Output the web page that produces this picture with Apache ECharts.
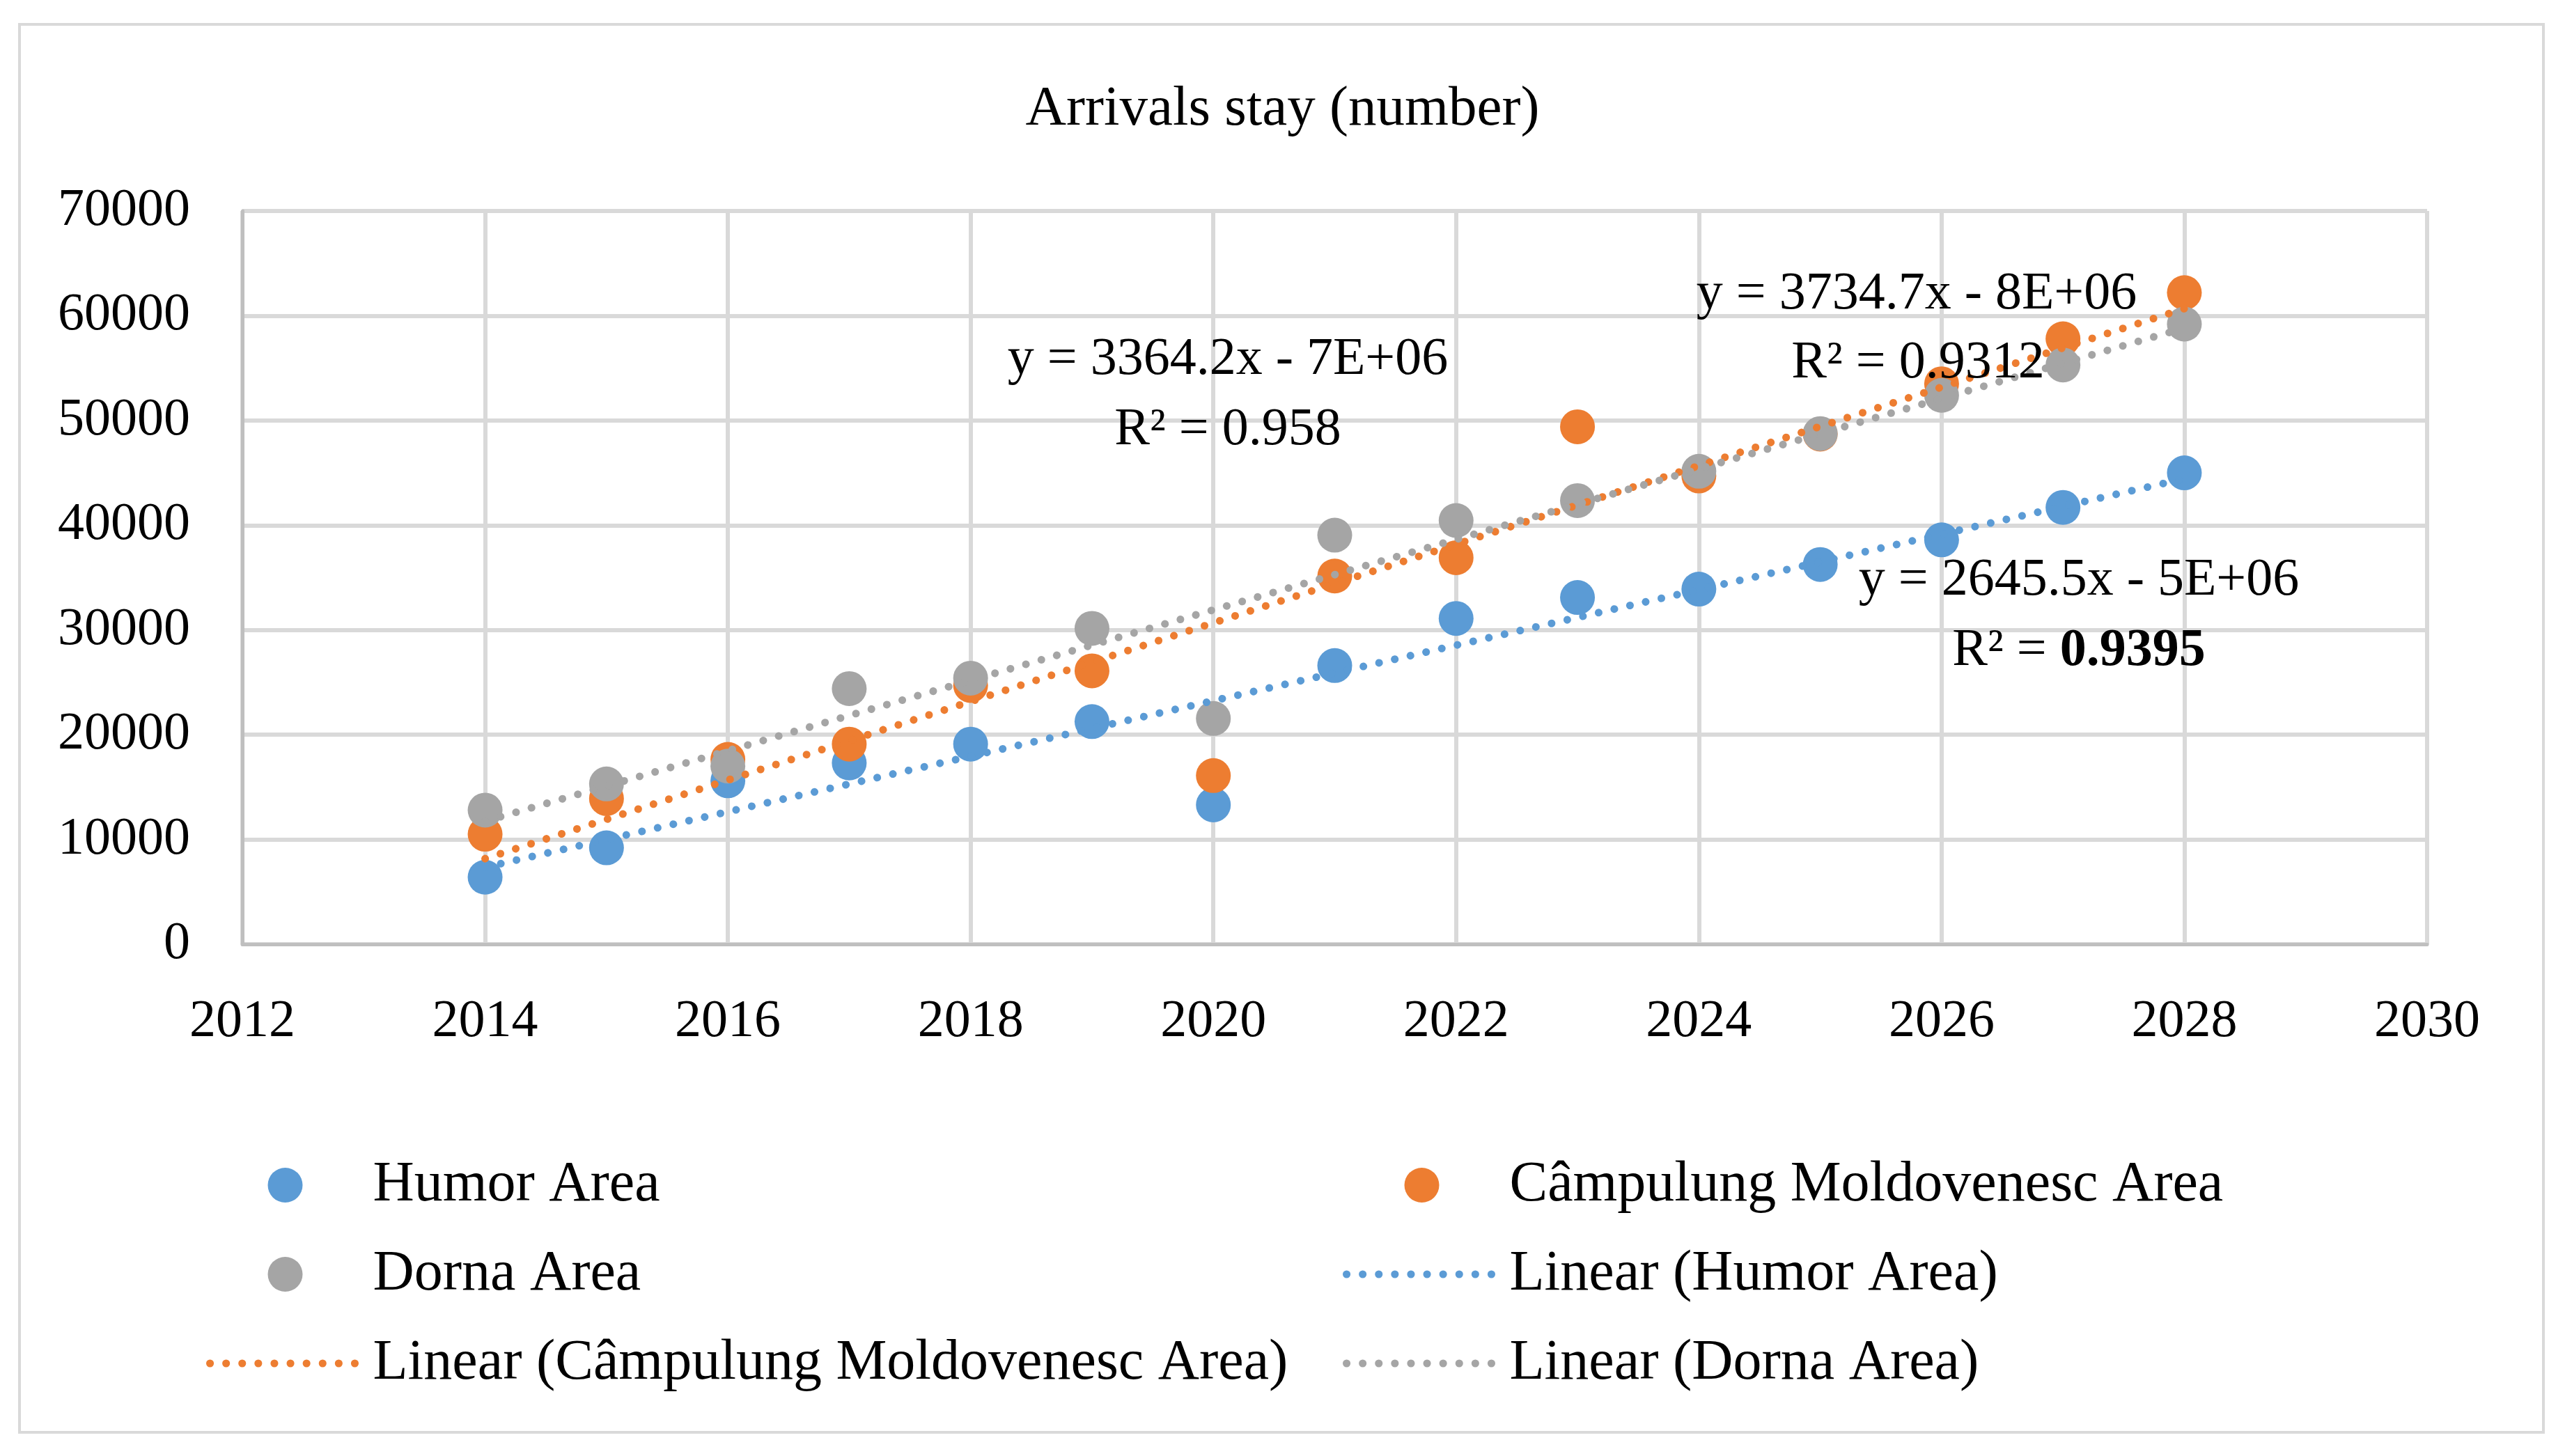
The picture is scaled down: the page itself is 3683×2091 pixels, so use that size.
<!DOCTYPE html>
<html><head><meta charset="utf-8">
<script src="https://cdn.jsdelivr.net/npm/echarts@6/dist/echarts.min.js"></script>
<style>html,body{margin:0;padding:0;background:#fff}#c{width:3683px;height:2091px}</style>
</head><body><div id="c"></div>
<script>
const years = [2014,2015,2016,2017,2018,2019,2020,2021,2022,2023,2024,2025,2026,2027,2028];
const humor = [6400,9200,15600,17300,19100,21250,13300,26600,31100,33100,33900,36250,38600,41700,45000];
const campulung = [10500,13900,17650,19100,24700,26100,16100,35150,36900,49400,44700,48700,53500,57800,62200];
const dorna = [12800,15300,17000,24400,25400,30150,21550,39050,40450,42350,45150,48750,52400,55300,59200];
const seriesNames = ['Humor Area','Câmpulung Moldovenesc Area','Dorna Area'];
const trendNames = ['Linear (Humor Area)','Linear (Câmpulung Moldovenesc Area)','Linear (Dorna Area)'];
const equations = [
  ['y = 2645.5x - 5E+06','R² = ','0.9395'],
  ['y = 3734.7x - 8E+06','R² = 0.9312',''],
  ['y = 3364.2x - 7E+06','R² = 0.958','']
];
const colors = ['#5B9BD5','#ED7D31','#A5A5A5'];

function fit(xs, ys){
  const n = xs.length;
  let sx=0, sy=0, sxx=0, sxy=0;
  for(let i=0;i<n;i++){sx+=xs[i];sy+=ys[i];sxx+=xs[i]*xs[i];sxy+=xs[i]*ys[i];}
  const b = (n*sxy - sx*sy)/(n*sxx - sx*sx);
  const a = (sy - b*sx)/n;
  return [[xs[0], a+b*xs[0]], [xs[n-1], a+b*xs[n-1]]];
}

const allData = [humor, campulung, dorna];
const font = 'Liberation Serif';
const dotted = {width:11, type:[0.1,23], cap:'round'};
const series = [];
allData.forEach((d,i)=>{
  series.push({
    name: seriesNames[i], type:'scatter', symbol:'circle', symbolSize:50,
    itemStyle:{color:colors[i], opacity:1},
    data: years.map((y,k)=>[y,d[k]]), z:2
  });
});
allData.forEach((d,i)=>{
  series.push({
    name: trendNames[i], type:'line', symbol:'none', showSymbol:false,
    lineStyle:Object.assign({color:colors[i]}, dotted),
    itemStyle:{color:'rgba(0,0,0,0)'},
    data: fit(years,d), z:3, silent:true
  });
});

const legendCommon = {
  orient:'vertical', itemWidth:216, itemHeight:50, itemGap:46,
  textStyle:{fontFamily:font, fontSize:82, color:'#000', lineHeight:82, padding:[0,0,0,13]},
  lineStyle:Object.assign({}, dotted),
  selectedMode:false
};

const eqStyle = {fontFamily:font, fontSize:76, fill:'#000', textAlign:'center', textVerticalAlign:'middle'};
const plain = v => String(v);

const chart = echarts.init(document.getElementById('c'));
chart.setOption({
  backgroundColor:'#fff',
  animation:false,
  title:{text:'Arrivals stay (number)', left:'center', top:112,
    textStyle:{fontFamily:font, fontSize:81, fontWeight:'normal', color:'#000'}},
  grid:{left:348, right:198, top:303, bottom:735},
  xAxis:{type:'value', min:2012, max:2030, interval:2,
    axisLine:{show:true, lineStyle:{color:'#BFBFBF', width:5}},
    axisTick:{show:false},
    splitLine:{show:true, lineStyle:{color:'#D9D9D9', width:6}},
    axisLabel:{fontFamily:font, fontSize:76, color:'#000', margin:74, formatter:plain}},
  yAxis:{type:'value', min:0, max:70000, interval:10000,
    axisLine:{show:true, lineStyle:{color:'#BFBFBF', width:5}},
    axisTick:{show:false},
    splitLine:{show:true, lineStyle:{color:'#D9D9D9', width:6}},
    axisLabel:{fontFamily:font, fontSize:76, color:'#000', margin:75, formatter:plain}},
  legend:[
    Object.assign({left:291, top:1656, data:[seriesNames[0], seriesNames[2], trendNames[1]]}, legendCommon),
    Object.assign({left:1923, top:1656, data:[seriesNames[1], trendNames[0], trendNames[2]]}, legendCommon)
  ],
  graphic:[
    {type:'rect', shape:{x:28,y:35,width:3624,height:2022}, style:{fill:null, stroke:'#D9D9D9', lineWidth:4}, z:-10, silent:true},
    {type:'text', x:1763, y:517, style:Object.assign({text:equations[2][0]}, eqStyle), z:10},
    {type:'text', x:1763, y:618, style:Object.assign({text:equations[2][1]}, eqStyle), z:10},
    {type:'text', x:2752, y:423, style:Object.assign({text:equations[1][0]}, eqStyle), z:10},
    {type:'text', x:2754, y:522, style:Object.assign({text:equations[1][1]}, eqStyle), z:10},
    {type:'text', x:2985, y:834, style:Object.assign({text:equations[0][0]}, eqStyle), z:10},
    {type:'text', x:2985, y:935, style:Object.assign({}, eqStyle, {
      text:'{n|'+equations[0][1]+'}{b|'+equations[0][2]+'}',
      rich:{n:{fontFamily:font,fontSize:76,color:'#000'}, b:{fontFamily:font,fontSize:76,fontWeight:'bold',color:'#000'}}
    }), z:10}
  ],
  series: series
});
</script></body></html>
